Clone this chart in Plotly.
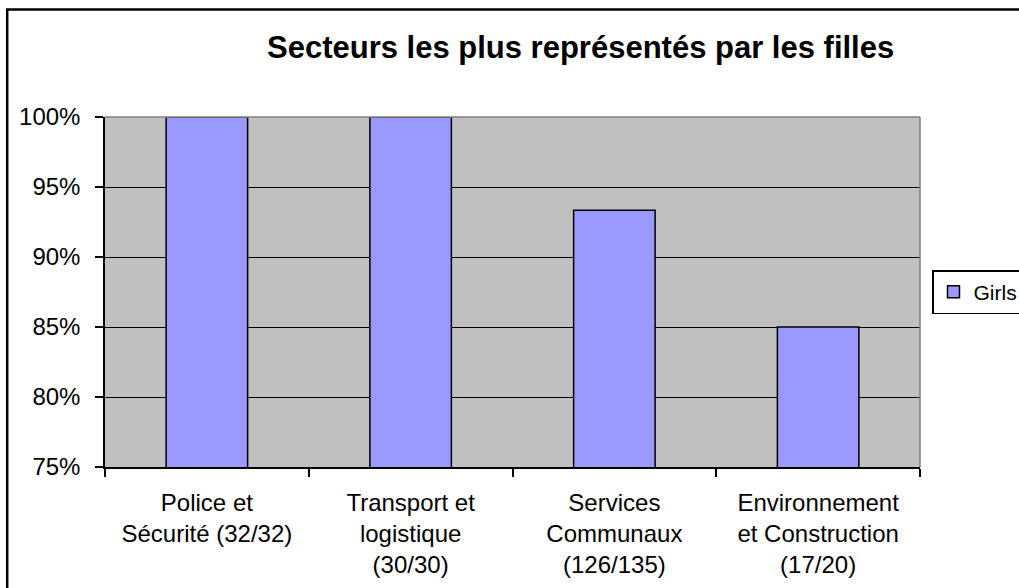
import plotly.graph_objects as go

categories = ["Police et<br>Sécurité (32/32)", "Transport et<br>logistique<br>(30/30)",
              "Services<br>Communaux<br>(126/135)", "Environnement<br>et Construction<br>(17/20)"]
girls = [1.0, 1.0, 126/135, 17/20]
y_ticks = [0.75, 0.80, 0.85, 0.90, 0.95, 1.00]
title_text = "Secteurs les plus représentés par les filles"

W, H = 1019, 588
L, R, T, B = 105, 920, 117, 467

def px_x(x):
    return (x - L) / (R - L)

def px_y(y):
    return (B - y) / (B - T)

fig = go.Figure()
fig.add_trace(go.Bar(
    x=categories, y=girls, name="Girls",
    marker=dict(color="#9999FF", line=dict(color="black", width=1.5)),
))

font = "Arial, 'Liberation Sans', sans-serif"
fig.update_layout(
    width=W, height=H,
    margin=dict(l=L, r=W - R, t=T, b=H - B, pad=0, autoexpand=False),
    paper_bgcolor="white", plot_bgcolor="#C0C0C0",
    bargap=0.6,
    font=dict(family=font, size=24, color="black"),
    showlegend=True,
    legend=dict(x=px_x(932), y=px_y(292), xanchor="left", yanchor="middle",
                bordercolor="black", borderwidth=1.5, bgcolor="white",
                font=dict(size=21), itemwidth=30),
    xaxis=dict(showline=True, linecolor="black", linewidth=1.5,
               ticks="outside", tickson="boundaries", ticklen=8, tickcolor="black",
               tickwidth=1.5, showgrid=False, ticklabelstandoff=13),
    yaxis=dict(range=[0.75, 1.0], tickvals=y_ticks, tickformat=".0%",
               showline=True, linecolor="black", linewidth=1.5,
               ticks="outside", ticklen=8, tickcolor="black", tickwidth=1.5,
               showgrid=True, gridcolor="black", gridwidth=1.2,
               ticklabelstandoff=10, zeroline=False),
    shapes=[
        dict(type="line", xref="paper", yref="paper", x0=0, x1=1, y0=1, y1=1,
             line=dict(color="#808080", width=1.5), layer="above"),
        dict(type="line", xref="paper", yref="paper", x0=1, x1=1, y0=0, y1=1,
             line=dict(color="#808080", width=1.5), layer="above"),
        dict(type="rect", xref="paper", yref="paper",
             x0=px_x(7.2), x1=px_x(1100), y0=px_y(700), y1=px_y(9.5),
             line=dict(color="black", width=2.5)),
    ],
    annotations=[
        dict(text="<b>" + title_text + "</b>", xref="paper", yref="paper",
             x=px_x(580), y=px_y(47), xanchor="center", yanchor="middle",
             showarrow=False, font=dict(size=31, family=font, color="black")),
    ],
)

fig.write_html("out.html", config={"displayModeBar": False},
               post_script="document.body.style.margin='0';document.body.style.overflow='hidden';")
